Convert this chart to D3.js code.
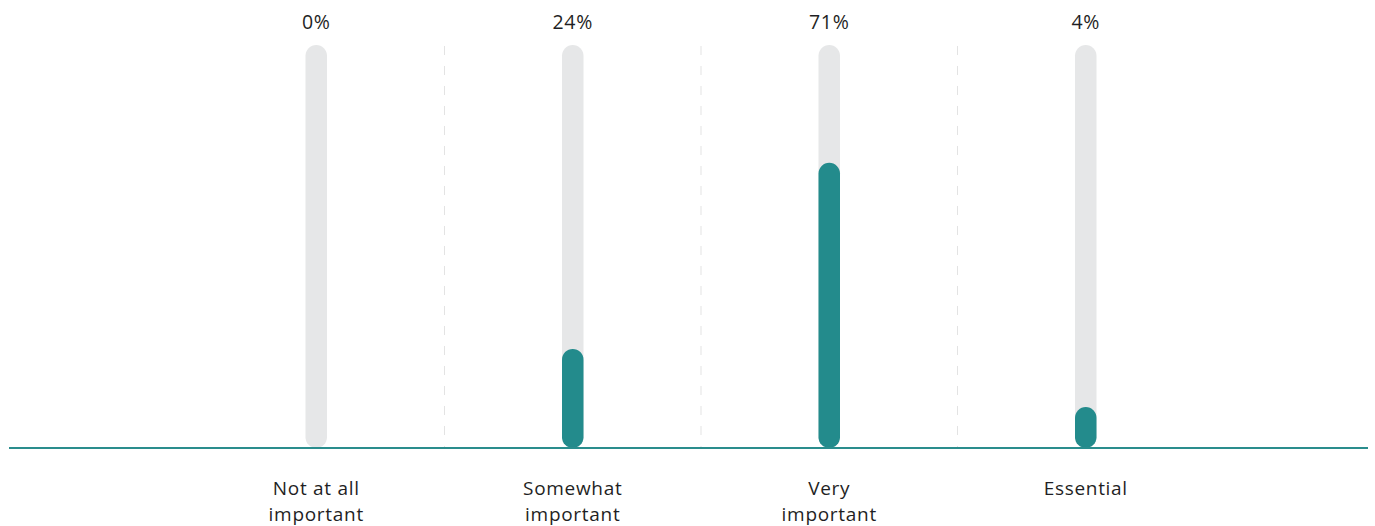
<!DOCTYPE html>
<html><head><meta charset="utf-8">
<script src="https://cdn.jsdelivr.net/npm/d3@7"></script>
<style>body{margin:0;background:#fff}svg{display:block}text{font-family:"Open Sans",sans-serif;fill:#1f1f24;letter-spacing:0.7px}</style>
</head><body><svg id="c" width="1375" height="526"></svg>
<script>
const categories = ["Not at all|important", "Somewhat|important", "Very|important", "Essential"];
const values = [0, 24, 71, 4];
const valueLabels = ["0%", "24%", "71%", "4%"];

const svg = d3.select("#c");
const baseY = 448;
const x = d3.scaleBand().domain(categories).range([188, 1214]);
const y = d3.scaleLinear().domain([0, 100]).range([444, 48]);
const bw = 21.5, minH = 41;

// dashed separators
const seps = categories.slice(1).map(c => x(c));
svg.selectAll("line.sep").data(seps).enter().append("line")
  .attr("x1", d => d).attr("x2", d => d).attr("y1", 46).attr("y2", baseY)
  .attr("stroke", "#e3e3e3").attr("stroke-width", 1).attr("stroke-dasharray", "9,11");

// background tracks
svg.selectAll("rect.bg").data(categories).enter().append("rect")
  .attr("x", d => x(d) + x.bandwidth()/2 - bw/2).attr("width", bw)
  .attr("y", 45).attr("height", baseY - 45)
  .attr("rx", bw/2).attr("fill", "#e6e7e8");

// value bars
svg.selectAll("rect.val").data(values.map((v,i)=>({v, c: categories[i]})).filter(d=>d.v>0)).enter().append("rect")
  .attr("x", d => x(d.c) + x.bandwidth()/2 - bw/2).attr("width", bw)
  .attr("y", d => Math.min(y(d.v), baseY - minH))
  .attr("height", d => baseY - Math.min(y(d.v), baseY - minH))
  .attr("rx", bw/2).attr("fill", "#238b8c");

// baseline
svg.append("line").attr("x1", 9).attr("x2", 1368).attr("y1", baseY).attr("y2", baseY)
  .attr("stroke", "#2a8d8d").attr("stroke-width", 2);

// value labels
svg.selectAll("text.vl").data(valueLabels).enter().append("text")
  .attr("x", (d,i) => x(categories[i]) + x.bandwidth()/2).attr("y", 29)
  .attr("text-anchor", "middle").attr("font-size", 19.5).text(d => d);

// category labels
categories.forEach(c => {
  const t = svg.append("text").attr("x", x(c) + x.bandwidth()/2).attr("y", 495)
    .attr("text-anchor", "middle").attr("font-size", 19);
  c.split("|").forEach((line, i) => t.append("tspan")
    .attr("x", x(c) + x.bandwidth()/2).attr("dy", i ? 26 : 0).text(line));
});
</script></body></html>
